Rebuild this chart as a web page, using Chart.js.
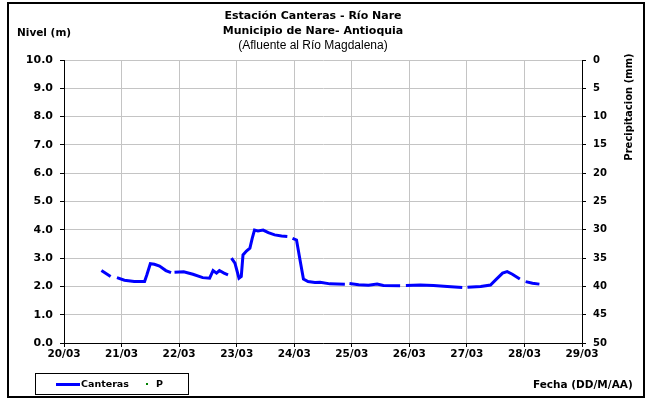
<!DOCTYPE html>
<html lang="es">
<head>
    <meta charset="UTF-8">
    <title>Estación Canteras - Río Nare</title>
    <style>
        body {
            margin: 0;
            background-color: white;
            font-family: 'DejaVu Sans', sans-serif;
        }
        .marco {
            position: relative;
            width: 651px;
            height: 401px;
            overflow: hidden;
        }
        .borde {
            position: absolute;
            left: 7px;
            top: 2px;
            width: 634px;
            height: 392px;
            border: 2px solid black;
        }
        canvas {
            position: absolute;
            left: 0;
            top: 0;
        }
        .txt {
            position: absolute;
            white-space: nowrap;
            color: black;
        }
        .titulo {
            left: 0;
            width: 626px;
            text-align: center;
            font-weight: bold;
            font-size: 11px;
        }
        .leyenda {
            position: absolute;
            left: 35px;
            top: 373px;
            width: 152px;
            height: 20px;
            border: 1px solid black;
            background: white;
        }
    </style>
    <script src="https://cdn.jsdelivr.net/npm/chart.js"></script>
</head>
<body>
<div class="marco">
    <canvas id="graficaNivel" width="651" height="401"></canvas>
    <div class="borde"></div>

    <div class="txt titulo" style="top:9px;">Estación Canteras - Río Nare</div>
    <div class="txt titulo" style="top:24px;">Municipio de Nare- Antioquia</div>
    <div class="txt titulo" style="top:38px; font-weight:normal; font-family:'Liberation Sans', Arial, sans-serif; font-size:12px;">(Afluente al Río Magdalena)</div>

    <div class="txt" style="left:17px; top:26px; font-weight:bold; font-size:10.5px;">Nivel (m)</div>
    <div class="txt" style="left:628px; top:107px; font-weight:bold; font-size:10px; transform: translate(-50%, -50%) rotate(-90deg);">Precipitacion (mm)</div>
    <div class="txt" style="left:533px; top:378px; font-weight:bold; font-size:10.5px;">Fecha (DD/M/AA)</div>

    <div class="leyenda">
        <div style="position:absolute; left:20px; top:9px; width:24px; height:3px; background:#0000ff;"></div>
        <div class="txt" style="left:45px; top:4px; font-weight:bold; font-size:9.5px;">Canteras</div>
        <div style="position:absolute; left:110px; top:9px; width:2px; height:2px; background:#008000;"></div>
        <div class="txt" style="left:120px; top:4px; font-weight:bold; font-size:9.5px;">P</div>
    </div>
</div>

<script>
    // Fecha en días de marzo (fracción de día) y nivel en metros; null = hueco en el registro
    const fechas = [
        20.65, 20.81, 20.86,
        20.92, 21.05, 21.22, 21.40, 21.44, 21.50, 21.57, 21.66, 21.77, 21.86, 21.89,
        21.92, 22.08, 22.24, 22.41, 22.53, 22.59, 22.65, 22.70, 22.78, 22.85, 22.88,
        22.91, 22.97, 23.04, 23.08, 23.11, 23.17, 23.23, 23.27, 23.31, 23.37, 23.46, 23.55, 23.66, 23.78, 23.88, 23.92,
        23.97, 24.04, 24.10, 24.16, 24.24, 24.36, 24.45, 24.62, 24.88, 24.92,
        24.96, 25.12, 25.29, 25.44, 25.55, 25.84, 25.89,
        25.94, 26.19, 26.42, 26.66, 26.92, 26.96,
        27.01, 27.24, 27.41, 27.50, 27.62, 27.70, 27.79, 27.92, 27.97,
        28.02, 28.14, 28.26
    ];
    const nivel = [
        2.56, 2.35, null,
        2.31, 2.22, 2.17, 2.17, 2.41, 2.80, 2.78, 2.72, 2.56, 2.49, null,
        2.50, 2.52, 2.43, 2.31, 2.29, 2.56, 2.47, 2.56, 2.47, 2.41, null,
        3.00, 2.82, 2.29, 2.35, 3.11, 3.25, 3.35, 3.70, 3.99, 3.96, 3.99, 3.90, 3.82, 3.78, 3.76, null,
        3.70, 3.64, 2.94, 2.26, 2.17, 2.14, 2.15, 2.09, 2.08, null,
        2.10, 2.06, 2.04, 2.08, 2.03, 2.02, null,
        2.03, 2.05, 2.03, 2.00, 1.96, null,
        1.97, 2.00, 2.05, 2.23, 2.47, 2.52, 2.43, 2.26, null,
        2.17, 2.11, 2.08
    ];
    // Precipitación (mm): sin registros en el periodo
    const fechasP = [];
    const precipitacion = [];

    const diasEje = [20, 21, 22, 23, 24, 25, 26, 27, 28, 29];
    const nivelEje = [0, 10];
    const precEje = [0, 50];

    const puntosNivel = fechas.map((f, i) => ({ x: f, y: nivel[i] }));
    const puntosP = fechasP.map((f, i) => ({ x: f, y: precipitacion[i] }));

    const fuente = 'DejaVu Sans';

    new Chart(document.getElementById('graficaNivel'), {
        type: 'line',
        data: {
            datasets: [{
                label: 'Canteras',
                data: puntosNivel,
                borderColor: '#0000ff',
                borderWidth: 3,
                pointRadius: 0,
                tension: 0,
                spanGaps: false,
                yAxisID: 'y'
            }, {
                label: 'P',
                data: puntosP,
                showLine: false,
                pointRadius: 1,
                backgroundColor: '#008000',
                borderColor: '#008000',
                yAxisID: 'y2'
            }]
        },
        options: {
            responsive: false,
            animation: false,
            layout: {
                padding: { left: 0, right: 0, top: 60, bottom: 38 }
            },
            plugins: {
                legend: { display: false },
                title: { display: false },
                tooltip: { enabled: false }
            },
            scales: {
                x: {
                    type: 'linear',
                    min: diasEje[0],
                    max: diasEje[diasEje.length - 1],
                    afterFit: (s) => { s.height = 20; },
                    afterBuildTicks: (s) => { s.ticks = diasEje.map(v => ({ value: v })); },
                    ticks: {
                        autoSkip: false,
                        maxRotation: 0,
                        padding: 1,
                        color: '#000',
                        font: { family: fuente, size: 10.5, weight: 'bold' },
                        callback: (v) => v + '/03'
                    },
                    grid: { color: '#c4c4c4', lineWidth: 1, tickLength: 4, tickColor: '#000' },
                    border: { color: '#000', width: 1 }
                },
                y: {
                    position: 'left',
                    min: nivelEje[0],
                    max: nivelEje[1],
                    afterFit: (s) => { s.width = 64; },
                    ticks: {
                        stepSize: 1,
                        padding: 7,
                        color: '#000',
                        font: { family: fuente, size: 11, weight: 'bold' },
                        callback: (v) => v.toFixed(1)
                    },
                    grid: { color: '#c4c4c4', lineWidth: 1, tickLength: 4, tickColor: '#000' },
                    border: { color: '#000', width: 1 }
                },
                y2: {
                    position: 'right',
                    reverse: true,
                    min: precEje[0],
                    max: precEje[1],
                    afterFit: (s) => { s.width = 69; },
                    ticks: {
                        stepSize: 5,
                        padding: 7,
                        color: '#000',
                        font: { family: fuente, size: 10, weight: 'bold' }
                    },
                    grid: { drawOnChartArea: false, tickLength: 4, tickColor: '#000' },
                    border: { color: '#000', width: 1 }
                }
            }
        }
    });
</script>
</body>
</html>
